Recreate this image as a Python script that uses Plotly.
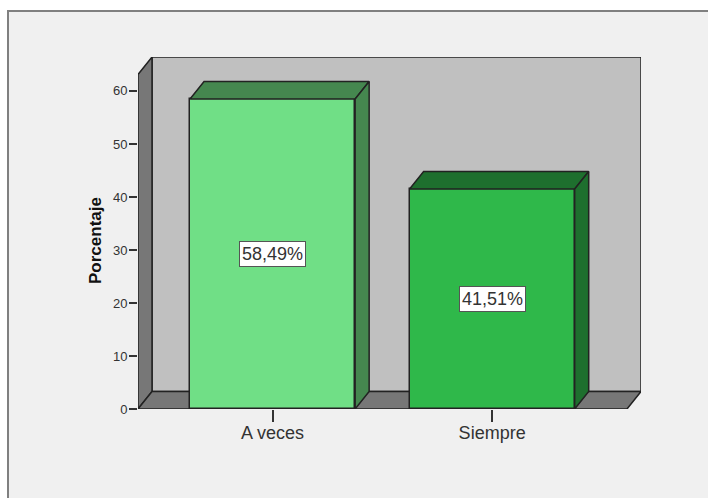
import plotly.graph_objects as go

categories = ["A veces", "Siempre"]
percentages = [58.49, 41.51]
value_labels = ["58,49%", "41,51%"]
front_colors = ["#70DF86", "#2FB84A"]
shade_colors = ["#45874F", "#1E6F2E"]
y_ticks = [0, 10, 20, 30, 40, 50, 60]

W, H = 708, 498
L, R, T, B = 138, 67, 57, 89
PW, PH = W - L - R, H - T - B
bar_width = 0.752
dx = 0.0638   # depth in x-axis units
dy = 3.3      # depth in y-axis units
x_min, x_max = -0.613, 1.678
y_max = 66.4
line = "#222222"
lw = 1.5
wall = "#C0C0C0"
side = "#777777"
font = "Liberation Sans"

fig = go.Figure()

fig.add_trace(go.Bar(
    x=list(range(len(categories))), y=percentages, width=bar_width,
    marker=dict(color=front_colors, line=dict(color=line, width=lw)),
    showlegend=False, hoverinfo="skip"))

for i, v in enumerate(percentages):
    l, r = i - bar_width / 2, i + bar_width / 2
    fig.add_trace(go.Scatter(
        x=[l, l + dx, r + dx, r, l], y=[v, v + dy, v + dy, v, v],
        mode="lines", fill="toself", fillcolor=shade_colors[i],
        line=dict(color=line, width=lw), showlegend=False, hoverinfo="skip", cliponaxis=False))
    fig.add_trace(go.Scatter(
        x=[r, r + dx, r + dx, r, r], y=[0, dy, v + dy, v, 0],
        mode="lines", fill="toself", fillcolor=shade_colors[i],
        line=dict(color=line, width=lw), showlegend=False, hoverinfo="skip", cliponaxis=False))
    fig.add_annotation(
        x=i, y=v / 2, text=value_labels[i], showarrow=False,
        font=dict(family=font, size=18, color="#333333"),
        bgcolor="white", bordercolor="#555555", borderwidth=1, borderpad=2)

fig.add_annotation(
    xref="paper", yref="paper", x=(95 - L) / PW, y=(H - B - 241) / PH,
    xanchor="center", yanchor="middle",
    text="<b>Porcentaje</b>", textangle=-90, showarrow=False,
    font=dict(family=font, size=17, color="#111111"))

front_r = x_max - dx
top_front = y_max - dy
shapes = [
    dict(type="rect", xref="paper", yref="paper",
         x0=(8 - L) / PW, x1=(W + 20 - L) / PW,
         y0=-(B + 20) / PH, y1=(PH + T - 11) / PH,
         fillcolor="#F0F0F0", line=dict(color="#808080", width=2), layer="below"),
    dict(type="path", layer="below", fillcolor=wall, line=dict(color=line, width=lw),
         path=f"M {x_min + dx} {dy} L {x_min + dx} {y_max} L {x_max} {y_max} L {x_max} {dy} Z"),
    dict(type="path", layer="below", fillcolor=side, line=dict(color=line, width=lw),
         path=f"M {x_min} 0 L {x_min} {top_front} L {x_min + dx} {y_max} L {x_min + dx} {dy} Z"),
    dict(type="path", layer="below", fillcolor=side, line=dict(color=line, width=lw),
         path=f"M {x_min} 0 L {x_min + dx} {dy} L {x_max} {dy} L {front_r} 0 Z"),
]

fig.update_layout(
    width=W, height=H, autosize=False,
    margin=dict(l=L, r=R, t=T, b=B, pad=0),
    paper_bgcolor="white", plot_bgcolor="rgba(0,0,0,0)",
    shapes=shapes, bargap=0,
    xaxis=dict(range=[x_min, x_max], tickmode="array",
               tickvals=list(range(len(categories))), ticktext=categories,
               ticks="outside", ticklen=12, tickwidth=1.5, tickcolor="#333333",
               ticklabelstandoff=-5,
               tickfont=dict(family=font, size=18, color="#333333"),
               showgrid=False, zeroline=False, showline=False),
    yaxis=dict(range=[0, y_max], tickmode="array", tickvals=y_ticks,
               ticks="outside", ticklen=8, tickwidth=1.5, tickcolor="#333333",
               ticklabelstandoff=-1,
               tickfont=dict(family=font, size=13, color="#333333"),
               showgrid=False, zeroline=False, showline=False),
)
fig.write_html("out.html", post_script="document.body.style.margin='0';",
               config={"displayModeBar": False})
